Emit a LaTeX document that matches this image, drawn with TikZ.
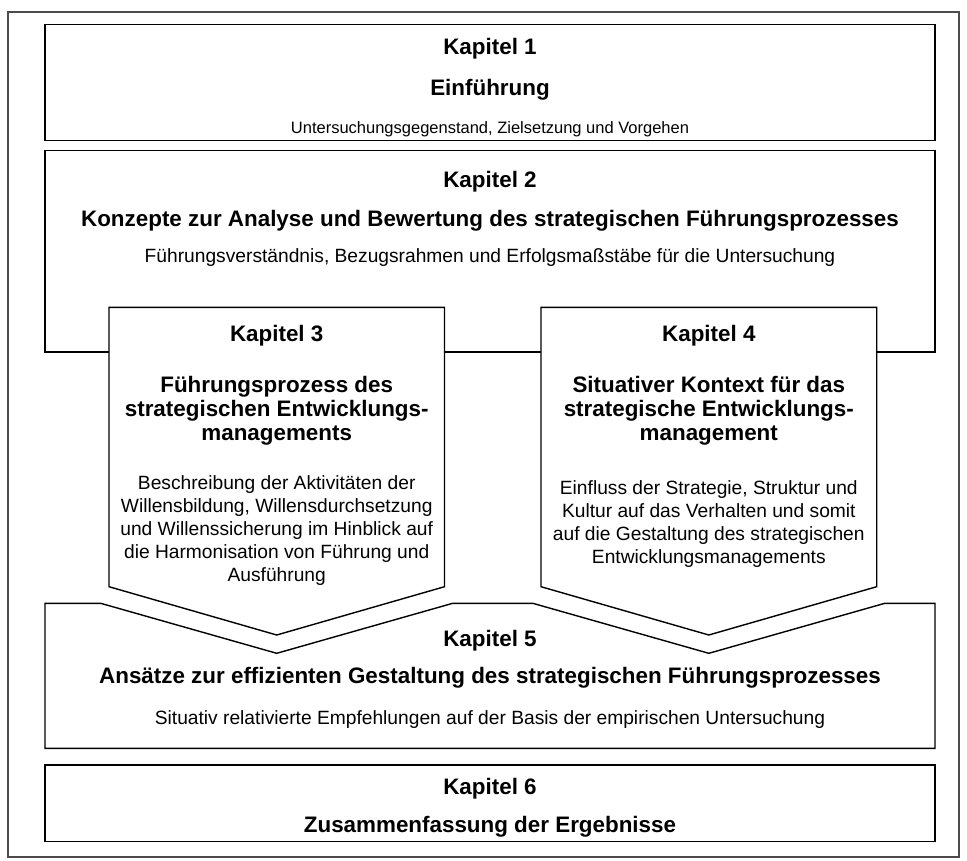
\documentclass[tikz,border=0pt]{standalone}
\usepackage{fontspec}
\setmainfont{Liberation Sans}
\tikzset{
  outerframe/.style={draw=black!70, line width=1.2pt},
  chapterbox/.style={draw=black, line width=1.4pt, fill=white, line join=miter},
  head/.style={font=\fontsize{22.4}{24}\selectfont\bfseries, anchor=base, inner sep=0pt, align=center},
  desc/.style={font=\fontsize{19.2}{23}\selectfont, anchor=base, inner sep=0pt, align=center},
  smalldesc/.style={font=\fontsize{16.5}{20}\selectfont, anchor=base, inner sep=0pt, align=center},
}
\begin{document}
\begin{tikzpicture}[x=1pt,y=-1pt]
\useasboundingbox (0,0) rectangle (967,860);

% surrounding frame
\draw[outerframe] (8,12) rectangle (959,857);

% chapter 1
\draw[chapterbox] (45,24.7) rectangle (935,140.7);
\node[head] (k1a) at (490,54) {Kapitel 1};
\node[head] (k1b) at (490,95) {Einführung};
\node[smalldesc] (k1c) at (490,133) {Untersuchungsgegenstand, Zielsetzung und Vorgehen};

% chapter 2
\draw[chapterbox] (45,150.7) rectangle (935,352);
\node[head] (k2a) at (490,187) {Kapitel 2};
\node[head] (k2b) at (490,226) {Konzepte zur Analyse und Bewertung des strategischen Führungsprozesses};
\node[desc] (k2c) at (490,262.8) {Führungsverständnis, Bezugsrahmen und Erfolgsmaßstäbe für die Untersuchung};

% chapter 5 with the two notches
\draw[chapterbox] (45,603.3) -- (100.7,603.3) -- (276.7,653.3) -- (452.7,603.3)
  -- (532.8,603.3) -- (708.8,653.3) -- (884.8,603.3) -- (935,603.3)
  -- (935,748.3) -- (45,748.3) -- cycle;
\node[head] (k5a) at (490,646) {Kapitel 5};
\node[head] (k5b) at (490,683) {Ansätze zur effizienten Gestaltung des strategischen Führungsprozesses};
\node[desc] (k5c) at (490,724) {Situativ relativierte Empfehlungen auf der Basis der empirischen Untersuchung};

% chapter 3 (base anchor sits on the last line)
\draw[chapterbox] (109,307.3) -- (444.5,307.3) -- (444.5,586.7) -- (276.7,635) -- (109,586.7) -- cycle;
\node[head] (k3a) at (276.7,341.4) {Kapitel 3};
\node[head] (k3b) at (276.7,440) {Führungsprozess des\\strategischen Entwicklungs-\\managements};
\node[desc] (k3c) at (276.7,581) {Beschreibung der Aktivitäten der\\Willensbildung, Willensdurchsetzung\\und Willenssicherung im Hinblick auf\\die Harmonisation von Führung und\\Ausführung};

% chapter 4
\draw[chapterbox] (541,307.3) -- (876.7,307.3) -- (876.7,586.7) -- (708.8,635) -- (541,586.7) -- cycle;
\node[head] (k4a) at (708.8,341.4) {Kapitel 4};
\node[head] (k4b) at (708.8,440) {Situativer Kontext für das\\strategische Entwicklungs-\\management};
\node[desc] (k4c) at (708.8,563.5) {Einfluss der Strategie, Struktur und\\Kultur auf das Verhalten und somit\\auf die Gestaltung des strategischen\\Entwicklungsmanagements};

% chapter 6
\draw[chapterbox] (45,765) rectangle (935,841.7);
\node[head] (k6a) at (490,794.5) {Kapitel 6};
\node[head] (k6b) at (490,832) {Zusammenfassung der Ergebnisse};
\end{tikzpicture}
\end{document}
